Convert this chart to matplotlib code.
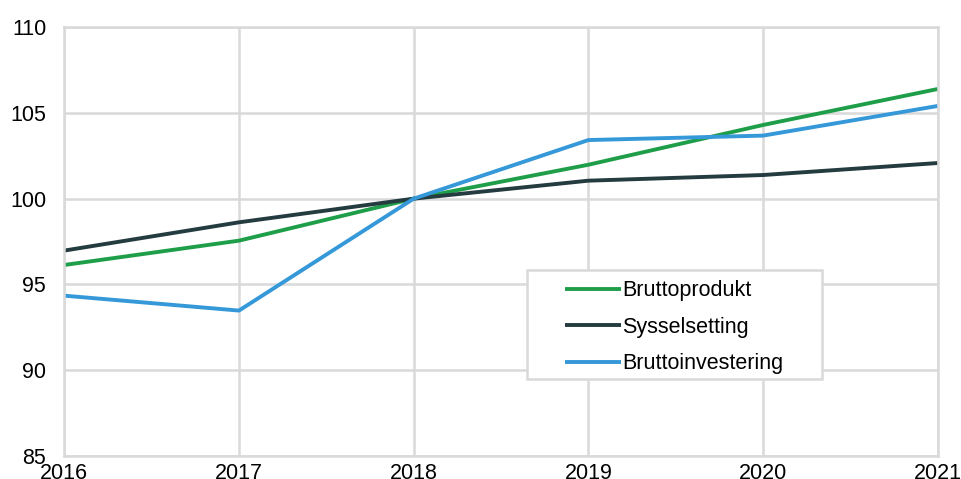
import matplotlib
matplotlib.use("Agg")
import matplotlib.pyplot as plt
from matplotlib.patches import Rectangle

years = [2016, 2017, 2018, 2019, 2020, 2021]
bruttoprodukt = [96.13, 97.55, 100.0, 101.98, 104.3, 106.4]
sysselsetting = [96.97, 98.62, 100.0, 101.05, 101.38, 102.08]
bruttoinvestering = [94.34, 93.47, 100.0, 103.42, 103.68, 105.41]
labels = ["Bruttoprodukt", "Sysselsetting", "Bruttoinvestering"]
colors = ["#1f9e49", "#243b40", "#3598d8"]
yticks = [85, 90, 95, 100, 105, 110]

plt.rcParams['font.family'] = ['Liberation Sans', 'DejaVu Sans']

fig = plt.figure(figsize=(9.62, 4.79), dpi=100)
ax = fig.add_axes([0.0668, 0.0486, 0.908, 0.8944])

for vals, lab, col in zip([bruttoprodukt, sysselsetting, bruttoinvestering], labels, colors):
    ax.plot(years, vals, color=col, lw=2.8, label=lab, solid_capstyle='butt')

ax.set_xlim(2016, 2021)
ax.set_ylim(85, 110)
ax.set_xticks(years)
ax.set_yticks(yticks)
ax.grid(True, color="#d9d9d9", lw=1.8)
ax.set_axisbelow(True)
for s in ax.spines.values():
    s.set_color("#d9d9d9")
    s.set_linewidth(1.8)
ax.tick_params(axis='both', length=0, labelsize=15.5, colors="#000000")
ax.tick_params(axis='y', pad=13)
ax.tick_params(axis='x', pad=5)

# legend frame
ax.add_patch(Rectangle((0.5298, 0.179), 0.3377, 0.2545, transform=ax.transAxes,
                       facecolor="white", edgecolor="#d9d9d9", lw=1.8, zorder=4))

leg = ax.legend(loc='upper left', bbox_to_anchor=(0.5733, 0.409), fontsize=15.5,
                frameon=False, handlelength=2.6, handletextpad=0.05, labelspacing=0.72,
                borderpad=0, borderaxespad=0)
leg.set_zorder(5)

fig.savefig("out.png", dpi=100)
